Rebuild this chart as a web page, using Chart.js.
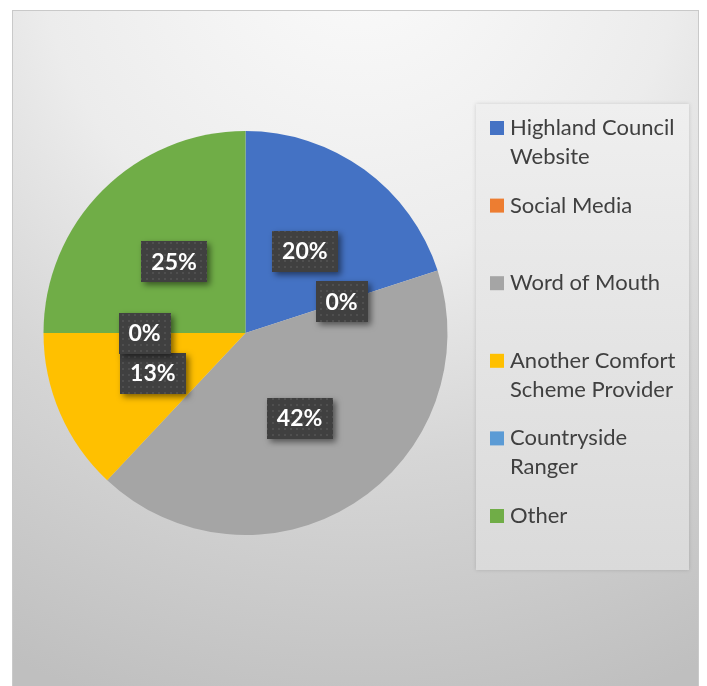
<!DOCTYPE html>
<html>
<head>
<meta charset="utf-8">
<script src="https://cdn.jsdelivr.net/npm/chart.js@4"></script>
<style>
  body { margin: 0; background: #fff; }
  #wrap { width: 707px; height: 686px; }
</style>
</head>
<body>
<div id="wrap"><canvas id="sourceChart" width="707" height="686"></canvas></div>
<script>
const categories = ['Highland Council Website', 'Social Media', 'Word of Mouth',
  'Another Comfort Scheme Provider', 'Countryside Ranger', 'Other'];
const shares = [20, 0, 42, 13, 0, 25];
const sliceColors = ['#4472C4', '#ED7D31', '#A5A5A5', '#FFC000', '#5B9BD5', '#70AD47'];

const FONT = 'Lato, "Open Sans", sans-serif';

// grey frame with a soft radial shading behind everything
const backdrop = {
  id: 'backdrop',
  beforeDraw(chart) {
    const ctx = chart.ctx;
    ctx.save();
    ctx.fillStyle = '#fff';
    ctx.fillRect(0, 0, chart.width, chart.height);
    const g = ctx.createRadialGradient(360, -60, 0, 360, -60, 800);
    g.addColorStop(0, '#fbfbfb');
    g.addColorStop(0.4, '#ececec');
    g.addColorStop(0.65, '#d6d6d6');
    g.addColorStop(1, '#bfbfbf');
    ctx.fillStyle = g;
    ctx.fillRect(12, 10, 687, 690);
    ctx.strokeStyle = '#c9c9c9';
    ctx.lineWidth = 1;
    ctx.strokeRect(12.5, 10.5, 686, 700);

    // legend panel
    ctx.shadowColor = 'rgba(0,0,0,0.15)';
    ctx.shadowBlur = 4;
    const lg = ctx.createLinearGradient(0, 104, 0, 570);
    lg.addColorStop(0, '#efefef');
    lg.addColorStop(1, '#dadada');
    ctx.fillStyle = lg;
    ctx.fillRect(476, 104, 213, 466);
    ctx.restore();
  }
};

function wrapWords(ctx, text, maxWidth) {
  const words = text.split(' ');
  const lines = [];
  let line = '';
  words.forEach(w => {
    const test = line ? line + ' ' + w : w;
    if (line && ctx.measureText(test).width > maxWidth) {
      lines.push(line);
      line = w;
    } else {
      line = test;
    }
  });
  if (line) lines.push(line);
  return lines;
}

// legend on the right, long names wrapped onto two lines
const sideLegend = {
  id: 'sideLegend',
  afterDraw(chart) {
    const ctx = chart.ctx;
    ctx.save();
    ctx.font = '22px ' + FONT;
    ctx.textBaseline = 'alphabetic';
    categories.forEach((name, i) => {
      const base = 135 + i * 77.6;
      ctx.fillStyle = sliceColors[i];
      ctx.fillRect(490, base - 14, 14, 14);
      ctx.fillStyle = '#404040';
      wrapWords(ctx, name, 176).forEach((ln, j) => {
        ctx.fillText(ln, 510, base + j * 29);
      });
    });
    ctx.restore();
  }
};

let dotPattern = null;
function getDots(ctx) {
  if (dotPattern) return dotPattern;
  const c = document.createElement('canvas');
  c.width = 6; c.height = 6;
  const p = c.getContext('2d');
  p.fillStyle = '#404040';
  p.fillRect(0, 0, 6, 6);
  p.fillStyle = '#4f4f4f';
  p.fillRect(2, 2, 2, 2);
  dotPattern = ctx.createPattern(c, 'repeat');
  return dotPattern;
}

// dark percentage boxes at the middle of each slice
const sliceLabels = {
  id: 'sliceLabels',
  afterDatasetsDraw(chart) {
    const ctx = chart.ctx;
    const meta = chart.getDatasetMeta(0);
    ctx.save();
    ctx.font = 'bold 23px ' + FONT;
    meta.data.forEach((arc, i) => {
      const p = arc.tooltipPosition();
      const text = shares[i] + '%';
      const w = Math.round(ctx.measureText(text).width + 20);
      const h = 41;
      const x = Math.round(p.x - w / 2);
      const y = Math.round(p.y - h / 2);
      ctx.save();
      ctx.shadowColor = 'rgba(0,0,0,0.5)';
      ctx.shadowBlur = 6;
      ctx.shadowOffsetX = 3;
      ctx.shadowOffsetY = 3;
      ctx.fillStyle = getDots(ctx);
      ctx.fillRect(x, y, w, h);
      ctx.restore();
      ctx.fillStyle = '#ffffff';
      ctx.textAlign = 'center';
      ctx.textBaseline = 'alphabetic';
      ctx.fillText(text, p.x, p.y + 8);
    });
    ctx.restore();
  }
};

const ctx = document.getElementById('sourceChart').getContext('2d');
new Chart(ctx, {
  type: 'pie',
  data: {
    labels: categories,
    datasets: [{
      data: shares,
      backgroundColor: sliceColors,
      borderWidth: 0
    }]
  },
  options: {
    responsive: false,
    animation: false,
    devicePixelRatio: 1,
    layout: { padding: { left: 43, top: 131, right: 259, bottom: 151 } },
    plugins: {
      legend: { display: false },
      tooltip: { enabled: false }
    }
  },
  plugins: [backdrop, sliceLabels, sideLegend]
});
</script>
</body>
</html>
